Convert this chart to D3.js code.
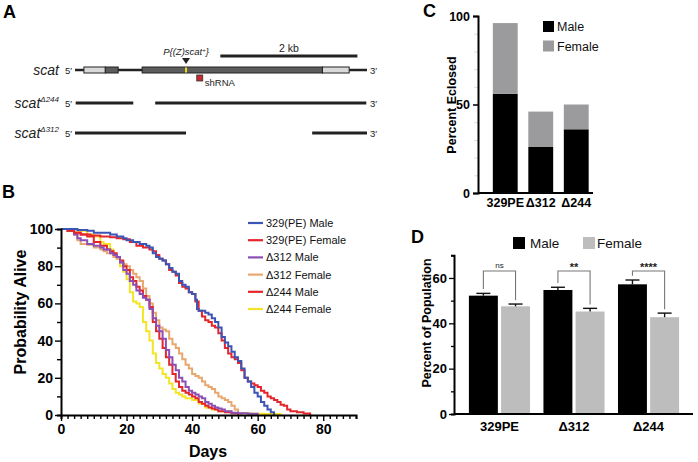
<!DOCTYPE html>
<html><head><meta charset="utf-8">
<script src="https://cdn.jsdelivr.net/npm/d3@7"></script>
<style>
body{margin:0;background:#fff}
svg{display:block}
text{font-family:"Liberation Sans",Arial,Helvetica,sans-serif}
</style>
</head><body><svg id="c" width="698" height="462"></svg>
<script>
// ---------- Panel A data (kb) ----------
const geneExonsLight = [[0.13,0.44],[3.61,4.00]];
const geneExonsDark = [[0.44,0.63],[0.98,3.61]];
const geneSpan = [0, 4.26];
const insertionKb = 1.62;
const shRnaKb = 1.82;
const scaleBarKb = [2.12, 4.12];
const del244Segments = [[0.01,0.85],[1.17,4.25]];
const del312Segments = [[0.0,1.62],[3.46,4.26]];

// ---------- Panel B data (day, % alive) ----------
const surv329Male = [[0,100],[3,100],[5,99.5],[8,99],[10,98],[13,98],[15,97],[17,96],[19,95],[20,94],[22,93],[24,92],[26,91],[27,90],[28,87],[29,85],[30,84],[31,83],[32,81],[33,79],[34,77],[35,76],[36,72],[37,70],[38,69],[39,66],[40,65],[41,62],[41.5,57],[42,56],[44,55],[45,54],[46,52],[47,50],[48,47],[49,42],[50,39],[51,37],[52,34],[53,31],[54,29],[55,25],[56,20],[57,18],[58,15],[59,12],[60,10],[61,7],[62,5],[63,3],[64,1.5],[65,0]];
const surv329Female = [[0,100],[2,99],[4,98],[6,97],[9,96.5],[12,96],[15,95.5],[17,95],[19,94.5],[21,93],[23,91],[25,90],[27,89],[28,88],[29,86],[30,84],[31,83],[32,81],[33,78],[34,77],[35,75],[36,71],[37,69],[38,68],[39,66],[40,65],[41,61],[42,56],[43,53],[44,51],[45,50],[46,48],[47,47],[48,44],[49,40],[50,36],[51,33],[52,31],[53,30],[54,28],[55,24],[56,20],[57,18],[58,17],[59,16],[60,15],[61,13],[62,12],[63,10],[64,9],[65,8],[66,7],[67,5.5],[68,5],[69,3],[70,2],[72,1.5],[74,0.8],[76,0]];
const survD312Male = [[0,100],[3,99],[4,97],[5,95],[6,94],[8,92],[10,91],[12,90],[13,89],[15,87],[16,86],[17,85],[18,82],[19,78],[20,76],[21,72],[22,70],[23,67],[24,65],[25,63],[26,62],[27,57],[28,52],[29,48],[30,45],[31,41],[32,35],[33,31],[34,27],[35,24],[36,20],[37,18],[38,15],[39,13],[40,12],[41,11],[42,10],[43,9],[44,7],[45,6],[46,5],[47,4],[48,3.5],[49,3],[50,2],[52,1.2],[54,1],[57,0.7],[60,0]];
const survD312Female = [[0,100],[2,99],[4,97],[5,94],[6,92],[8,91.5],[10,90],[12,89],[13,88],[14,87],[16,85],[17,84],[18,82],[19,81],[20,80],[21,78],[22,76],[23,74],[24,72],[25,68],[26,64],[27,60],[28,55],[29,51],[30,47],[31,46],[32,45],[33,41],[34,38],[35,36],[36,33],[37,30],[38,27],[39,25],[40,22],[41,21],[42,20],[43,18],[44,16],[45,15],[46,14],[47,12],[48,10],[49,9],[50,8],[51,7],[52,5],[53,3],[54,1],[55,0]];
const survD244Male = [[0,100],[2,99],[4,98],[6,97],[8,96],[10,93],[12,91],[14,89],[15,88],[16,87],[17,85],[18,83],[19,80],[20,78],[21,74],[22,72],[23,69],[24,67],[25,64],[26,62],[27,58],[28,50],[29,45],[30,41],[31,36],[32,31],[33,27],[34,22],[35,18],[36,15],[37,13],[38,12],[39,11],[40,10],[41,9],[42,7],[43,6],[44,5],[45,4],[46,3.5],[47,3],[48,2],[50,1.5],[52,1],[54,0]];
const survD244Female = [[0,100],[5,99],[8,97],[10,96],[12,93],[13,92],[15,89],[16,86],[17,84],[18,80],[19,77],[20,73],[21,66],[22,61],[23,60],[24,58],[25,50],[26,45],[27,40],[28,33],[29,28],[30,25],[31,22],[32,20],[33,17],[34,14],[35,12],[36,11],[37,10],[38,9],[40,8],[42,6],[44,4],[46,3],[48,2],[52,1],[58,0.7],[62,0.5],[67,0]];
const survNames = ["329(PE) Male","329(PE) Female","\u0394312 Male","\u0394312 Female","\u0394244 Male","\u0394244 Female"];
const survColors = ["#3b55b5","#e4262c","#8b4fb6","#e8a76e","#e4262c","#f3e526"];
const survDayTicks = [0,20,40,60,80];
const survPctTicks = [0,20,40,60,80,100];

// ---------- Panel C data ----------
const eclCats = ["329PE","\u0394312","\u0394244"];
const eclMale = [56,26,36];
const eclFemale = [40,20,14];
const eclTicks = [0,50,100];

// ---------- Panel D data ----------
const popCats = ["329PE","\u0394312","\u0394244"];
const popMale = [52.2,54.7,57.2];
const popMaleSem = [1.0,1.2,1.9];
const popFemale = [47.5,45.2,42.7];
const popFemaleSem = [1.0,1.4,1.8];
const popSig = ["ns","**","****"];
const popTicks = [0,20,40,60];

const svg = d3.select("#c");
svg.append("rect").attr("width",698).attr("height",462).attr("fill","#fff");

function panelLetter(t,x,y){
  svg.append("text").attr("x",x).attr("y",y).text(t)
    .attr("font-size",18).attr("font-weight","bold").attr("fill","#000");
}

// =============== Panel A ===============
panelLetter("A",3,18);
const xA = d3.scaleLinear().domain(geneSpan).range([75,367]);
const gA = svg.append("g");
const rowY = [70,103,133];
gA.append("line").attr("x1",xA(scaleBarKb[0])).attr("x2",xA(scaleBarKb[1]))
  .attr("y1",56).attr("y2",56).attr("stroke","#222").attr("stroke-width",3);
gA.append("text").attr("x",(xA(scaleBarKb[0])+xA(scaleBarKb[1]))/2).attr("y",52)
  .attr("text-anchor","middle").attr("font-size",10.5).attr("fill","#222").text("2 kb");
function geneLabel(y,sup){
  const t = gA.append("text").attr("x",59).attr("y",y+5).attr("text-anchor","end")
    .attr("font-size",14).attr("font-style","italic").attr("fill","#222");
  t.append("tspan").text("scat");
  if(sup) t.append("tspan").attr("font-size",8).attr("dy",-6).text(sup);
  gA.append("text").attr("x",65).attr("y",y+3.5).attr("font-size",9.5).attr("fill","#222").text("5\u2032");
  gA.append("text").attr("x",370).attr("y",y+3.5).attr("font-size",9.5).attr("fill","#222").text("3\u2032");
}
geneLabel(rowY[0],null);
geneLabel(rowY[1],"\u0394244");
geneLabel(rowY[2],"\u0394312");
gA.append("line").attr("x1",xA(geneSpan[0])).attr("x2",xA(geneSpan[1]))
  .attr("y1",rowY[0]).attr("y2",rowY[0]).attr("stroke","#222").attr("stroke-width",2.5);
gA.selectAll("rect.exd").data(geneExonsDark).join("rect")
  .attr("x",d=>xA(d[0])).attr("width",d=>xA(d[1])-xA(d[0]))
  .attr("y",rowY[0]-3).attr("height",6).attr("fill","#5c5c5c").attr("stroke","#222").attr("stroke-width",1);
gA.selectAll("rect.exl").data(geneExonsLight).join("rect")
  .attr("x",d=>xA(d[0])).attr("width",d=>xA(d[1])-xA(d[0]))
  .attr("y",rowY[0]-3).attr("height",6).attr("fill","#d9d9d9").attr("stroke","#222").attr("stroke-width",1);
gA.append("line").attr("x1",xA(insertionKb)).attr("x2",xA(insertionKb))
  .attr("y1",rowY[0]-2.5).attr("y2",rowY[0]+2.5).attr("stroke","#e8e020").attr("stroke-width",2);
const ix = xA(insertionKb);
gA.append("path").attr("d",`M${ix-4},58 L${ix+4},58 L${ix},64 Z`).attr("fill","#222");
const pt = gA.append("text").attr("x",ix).attr("y",55).attr("text-anchor","middle")
  .attr("font-size",9.5).attr("font-style","italic").attr("fill","#222");
pt.append("tspan").text("P{(Z)scat");
pt.append("tspan").attr("font-size",6).attr("dy",-3).text("+");
pt.append("tspan").attr("dy",3).text("}");
const sx = xA(shRnaKb);
gA.append("rect").attr("x",sx-3).attr("y",75).attr("width",6).attr("height",6)
  .attr("fill","#c62a2f").attr("stroke","#333").attr("stroke-width",0.8);
gA.append("text").attr("x",sx+5).attr("y",86).attr("font-size",9.5).attr("fill","#222").text("shRNA");
[[del244Segments,rowY[1]],[del312Segments,rowY[2]]].forEach(([segs,y])=>{
  gA.selectAll(null).data(segs).join("line")
    .attr("x1",d=>xA(d[0])).attr("x2",d=>xA(d[1])).attr("y1",y).attr("y2",y)
    .attr("stroke","#222").attr("stroke-width",3);
});

// =============== Panel B ===============
panelLetter("B",2,198);
const xB = d3.scaleLinear().domain([0,90]).range([61,356]);
const yB = d3.scaleLinear().domain([0,100]).range([415,229]);
const gB = svg.append("g");
const survSeries = [surv329Male,surv329Female,survD312Male,survD312Female,survD244Male,survD244Female];
const drawOrder = [5,3,4,2,1,0];
const line = d3.line().x(d=>xB(d[0])).y(d=>yB(d[1])).curve(d3.curveStepAfter);
drawOrder.forEach(i=>{
  gB.append("path").attr("d",line(survSeries[i])).attr("fill","none")
    .attr("stroke",survColors[i]).attr("stroke-width",2);
});
const xAxisB = gB.append("g").attr("transform","translate(0,415)");
xAxisB.call(d3.axisBottom(xB).tickValues(d3.range(0,91,2)).tickSize(4).tickFormat(""));
xAxisB.call(g=>g.selectAll(".tick").filter(d=>survDayTicks.includes(d)).select("line").attr("y2",6));
xAxisB.append("g").call(d3.axisBottom(xB).tickValues(survDayTicks).tickSize(0).tickPadding(9))
  .call(g=>g.select(".domain").remove());
const yAxisB = gB.append("g").attr("transform","translate(61,0)");
yAxisB.call(d3.axisLeft(yB).tickValues(d3.range(0,101,10)).tickSize(4).tickFormat(""));
yAxisB.call(g=>g.selectAll(".tick").filter(d=>survPctTicks.includes(d)).select("line").attr("x2",-6));
yAxisB.append("g").call(d3.axisLeft(yB).tickValues(survPctTicks).tickSize(0).tickPadding(8))
  .call(g=>g.select(".domain").remove());
[xAxisB,yAxisB].forEach(a=>{
  a.selectAll(".domain").attr("stroke","#000").attr("stroke-width",2);
  a.selectAll(".tick line").attr("stroke","#000").attr("stroke-width",1.4);
  a.selectAll("text").attr("font-size",14).attr("font-weight","bold").attr("fill","#000")
    .attr("font-family","'Liberation Sans',Arial,sans-serif");
});
gB.append("text").attr("x",208).attr("y",457).attr("text-anchor","middle")
  .attr("font-size",16).attr("font-weight","bold").text("Days");
gB.append("text").attr("transform","translate(26,312) rotate(-90)").attr("text-anchor","middle")
  .attr("font-size",16).attr("font-weight","bold").text("Probability Alive");
const legB = gB.append("g");
survNames.forEach((n,i)=>{
  const y = 223 + i*17.2;
  legB.append("line").attr("x1",248).attr("x2",263).attr("y1",y).attr("y2",y)
    .attr("stroke",survColors[i]).attr("stroke-width",2.2);
  legB.append("text").attr("x",266).attr("y",y+4).attr("font-size",11).attr("fill","#111").text(n);
});

// =============== Panel C ===============
panelLetter("C",423,17);
const xC = d3.scaleBand().domain(eclCats).range([487.5,594]).paddingInner(0.3).paddingOuter(0.15);
const yC = d3.scaleLinear().domain([0,100]).range([193,16]);
const gC = svg.append("g");
// faint minor ticks
gC.append("g").attr("transform","translate(478,0)")
  .call(d3.axisLeft(yC).tickValues(d3.range(10,100,10)).tickSize(4).tickFormat(""))
  .call(g=>{g.select(".domain").remove(); g.selectAll(".tick line").attr("stroke","#ddd").attr("stroke-width",1);});
gC.selectAll("rect.m").data(eclCats).join("rect")
  .attr("x",d=>xC(d)).attr("width",xC.bandwidth())
  .attr("y",(d,i)=>yC(eclMale[i])).attr("height",(d,i)=>yC(0)-yC(eclMale[i])).attr("fill","#000");
gC.selectAll("rect.f").data(eclCats).join("rect")
  .attr("x",d=>xC(d)).attr("width",xC.bandwidth())
  .attr("y",(d,i)=>yC(eclMale[i]+eclFemale[i])).attr("height",(d,i)=>yC(eclMale[i])-yC(eclMale[i]+eclFemale[i]))
  .attr("fill","#9b9b9e");
const yAxC = gC.append("g").attr("transform","translate(478,0)")
  .call(d3.axisLeft(yC).tickValues(eclTicks).tickSize(5).tickPadding(3));
const xAxC = gC.append("g").attr("transform","translate(0,193)")
  .call(d3.axisBottom(xC).tickSize(0).tickPadding(5));
xAxC.select(".domain").attr("d","M478,0H593");
[yAxC,xAxC].forEach(a=>{
  a.selectAll(".domain").attr("stroke","#000").attr("stroke-width",2);
  a.selectAll(".tick line").attr("stroke","#000").attr("stroke-width",1.5);
  a.selectAll("text").attr("font-size",12.5).attr("font-weight","bold").attr("fill","#000")
    .attr("font-family","'Liberation Sans',Arial,sans-serif");
});
gC.append("text").attr("transform","translate(456,105) rotate(-90)").attr("text-anchor","middle")
  .attr("font-size",12.5).attr("font-weight","bold").text("Percent Eclosed");
[["Male","#000"],["Female","#9b9b9e"]].forEach(([n,c],i)=>{
  const y = 21 + i*19.5;
  gC.append("rect").attr("x",543).attr("y",y).attr("width",11).attr("height",11).attr("fill",c);
  gC.append("text").attr("x",557).attr("y",y+10).attr("font-size",12.5).attr("fill","#111").text(n);
});

// =============== Panel D ===============
panelLetter("D",411,243);
const x0D = d3.scaleBand().domain(popCats).range([454,694]).paddingInner(0.18).paddingOuter(0.2);
const x1D = d3.scaleBand().domain(["Male","Female"]).range([0,x0D.bandwidth()]).paddingInner(0.1);
const yD = d3.scaleLinear().domain([0,70]).range([414,255.3]);
const gD = svg.append("g");
const sexData = [["Male",popMale,popMaleSem,"#000"],["Female",popFemale,popFemaleSem,"#bdbdbd"]];
sexData.forEach(([sex,vals,sems,col])=>{
  popCats.forEach((c,i)=>{
    const x = x0D(c)+x1D(sex), w = x1D.bandwidth(), cx = x + w/2;
    gD.append("rect").attr("x",x).attr("width",w).attr("y",yD(vals[i])).attr("height",yD(0)-yD(vals[i])).attr("fill",col);
    gD.append("line").attr("x1",cx).attr("x2",cx).attr("y1",yD(vals[i])).attr("y2",yD(vals[i]+sems[i]))
      .attr("stroke","#111").attr("stroke-width",1.4);
    gD.append("line").attr("x1",cx-7).attr("x2",cx+7).attr("y1",yD(vals[i]+sems[i])).attr("y2",yD(vals[i]+sems[i]))
      .attr("stroke","#111").attr("stroke-width",1.4);
  });
});
popCats.forEach((c,i)=>{
  const xl = x0D(c)+x1D("Male")+x1D.bandwidth()/2;
  const xr = x0D(c)+x1D("Female")+x1D.bandwidth()/2;
  const top = yD(63.1);
  const yl = yD(popMale[i]+popMaleSem[i]+1.9);
  const yr = yD(popFemale[i]+popFemaleSem[i]+1.7);
  gD.append("path").attr("d",`M${xl},${yl}V${top}H${xr}V${yr}`).attr("fill","none")
    .attr("stroke","#777").attr("stroke-width",1.1);
  const isNs = popSig[i]==="ns";
  gD.append("text").attr("x",(xl+xr)/2).attr("y",isNs?top-2.5:top+0.5).attr("text-anchor","middle")
    .attr("font-size",isNs?8:11).attr("font-weight",isNs?"normal":"bold").attr("fill","#222").text(popSig[i]);
});
const yAxD = gD.append("g").attr("transform","translate(454,0)")
  .call(d3.axisLeft(yD).tickValues(d3.range(0,71,10)).tickSize(3).tickFormat(""));
yAxD.call(g=>g.selectAll(".tick").filter(d=>popTicks.includes(d)).select("line").attr("x2",-5));
yAxD.append("g").call(d3.axisLeft(yD).tickValues(popTicks).tickSize(0).tickPadding(7)).call(g=>g.select(".domain").remove());
const xAxD = gD.append("g").attr("transform","translate(0,414)")
  .call(d3.axisBottom(x0D).tickSize(0).tickPadding(8));
xAxD.select(".domain").attr("d","M454,0H693");
[yAxD,xAxD].forEach(a=>{
  a.selectAll(".domain").attr("stroke","#000").attr("stroke-width",2);
  a.selectAll(".tick line").attr("stroke","#000").attr("stroke-width",1.3);
  a.selectAll("text").attr("font-size",13).attr("font-weight","bold").attr("fill","#000")
    .attr("font-family","'Liberation Sans',Arial,sans-serif");
});
gD.append("text").attr("transform","translate(431,323) rotate(-90)").attr("text-anchor","middle")
  .attr("font-size",12.5).attr("font-weight","bold").text("Percent of Population");
[["Male","#000",513,530],["Female","#bdbdbd",583,597]].forEach(([n,c,rx,tx])=>{
  gD.append("rect").attr("x",rx).attr("y",237).attr("width",12).attr("height",12).attr("fill",c);
  gD.append("text").attr("x",tx).attr("y",248).attr("font-size",13.5).attr("fill","#111").text(n);
});
</script></body></html>
